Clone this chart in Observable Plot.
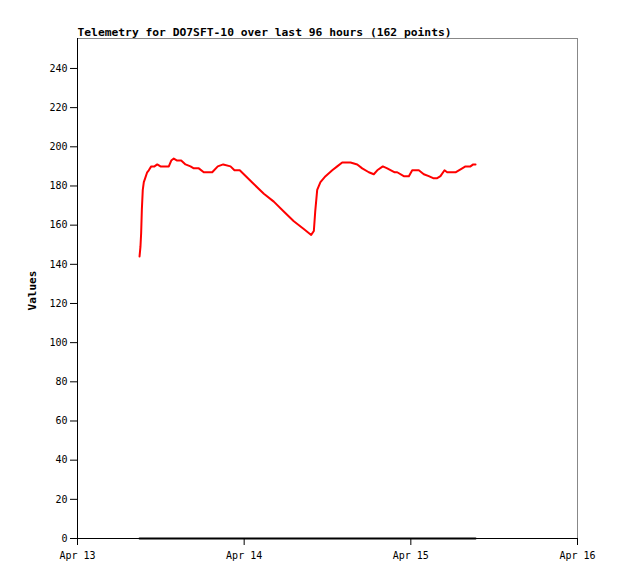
<!DOCTYPE html>
<html>
<head>
<meta charset="utf-8">
<script src="https://cdn.jsdelivr.net/npm/d3@7"></script>
<script src="https://cdn.jsdelivr.net/npm/@observablehq/plot@0.6"></script>
<style>
  html, body { margin: 0; padding: 0; background: #fff; }
</style>
</head>
<body>
<div id="chart"></div>
<script>
const titleText = "Telemetry for DO7SFT-10 over last 96 hours (162 points)";
const yLabel = "Values";
const times = [
  "2024-04-13T08:56","2024-04-13T09:04","2024-04-13T09:10","2024-04-13T09:16","2024-04-13T09:24",
  "2024-04-13T09:33","2024-04-13T09:45","2024-04-13T10:02","2024-04-13T10:16","2024-04-13T10:37",
  "2024-04-13T11:05","2024-04-13T11:29","2024-04-13T11:57","2024-04-13T13:09","2024-04-13T13:30",
  "2024-04-13T13:52","2024-04-13T14:21","2024-04-13T14:56","2024-04-13T15:33","2024-04-13T16:16",
  "2024-04-13T16:45","2024-04-13T17:28","2024-04-13T18:11","2024-04-13T19:24","2024-04-13T20:12",
  "2024-04-13T20:59","2024-04-13T22:02","2024-04-13T22:36","2024-04-13T23:22","2024-04-13T23:57",
  "2024-04-14T01:23","2024-04-14T02:50","2024-04-14T04:16","2024-04-14T05:42","2024-04-14T07:09",
  "2024-04-14T08:35","2024-04-14T09:39","2024-04-14T10:02","2024-04-14T10:14","2024-04-14T10:31",
  "2024-04-14T10:59","2024-04-14T11:43","2024-04-14T12:41","2024-04-14T13:24","2024-04-14T14:07",
  "2024-04-14T15:19","2024-04-14T16:17","2024-04-14T17:00","2024-04-14T17:57","2024-04-14T18:40",
  "2024-04-14T19:10","2024-04-14T19:58","2024-04-14T20:36","2024-04-14T21:41","2024-04-14T22:02",
  "2024-04-14T22:59","2024-04-14T23:43","2024-04-15T00:12","2024-04-15T01:09","2024-04-15T01:52",
  "2024-04-15T02:35","2024-04-15T03:13","2024-04-15T03:48","2024-04-15T04:16","2024-04-15T04:51",
  "2024-04-15T05:14","2024-04-15T06:26","2024-04-15T07:24","2024-04-15T07:52","2024-04-15T08:35",
  "2024-04-15T08:59","2024-04-15T09:19"
];
const valuesRed = [
  144,149,156,168,178,
  182,184,187,188,190,
  190,191,190,190,193,
  194,193,193,191,190,
  189,189,187,187,190,
  191,190,188,188,186,
  181,176,172,167,162,
  158,155,157,167,178,
  182,185,188,190,192,
  192,191,189,187,186,
  188,190,189,187,187,
  185,185,188,188,186,
  185,184,184,185,188,
  187,187,189,190,190,
  191,191
];
const valuesBlack = times.map(() => 0);
const xTicks = ["2024-04-13","2024-04-14","2024-04-15","2024-04-16"];
const yTicks = [0,20,40,60,80,100,120,140,160,180,200,220,240];

const parse = s => new Date(s + (s.length > 10 ? ":00Z" : "T00:00:00Z"));
const red = times.map((t, i) => ({t: parse(t), v: valuesRed[i]}));
const black = times.map((t, i) => ({t: parse(t), v: valuesBlack[i]}));
const xt = xTicks.map(parse);

const font = "'DejaVu Sans Mono', monospace";

const chart = Plot.plot({
  width: 618,
  height: 579,
  marginLeft: 77,
  marginRight: 41,
  marginTop: 38,
  marginBottom: 41,
  style: {fontFamily: font, fontSize: "10px", color: "#000", background: "#fff"},
  x: {type: "utc", domain: [xt[0], xt[3]]},
  y: {domain: [0, 255.3]},
  marks: [
    Plot.frame({stroke: "#888"}),
    Plot.ruleX([xt[0]], {stroke: "#000"}),
    Plot.ruleY([0], {stroke: "#000"}),
    Plot.axisY({ticks: yTicks, tickSize: 7, tickPadding: 3, label: null, fontSize: 10}),
    Plot.axisX({ticks: xt, tickSize: 7, tickPadding: 6, label: null, tickFormat: d3.utcFormat("%b %d"), fontSize: 10}),
    Plot.line(black, {x: "t", y: "v", stroke: "#000", strokeWidth: 2}),
    Plot.line(red, {x: "t", y: "v", stroke: "#ff0000", strokeWidth: 2}),
    Plot.text([titleText], {frameAnchor: "top-left", dx: 0, dy: -11, text: d => d, textAnchor: "start", fontWeight: "bold", fontSize: 11.3, fill: "#000"}),
    Plot.text([yLabel], {frameAnchor: "left", dx: -45, dy: 2, rotate: -90, text: d => d, textAnchor: "middle", fontWeight: "bold", fontSize: 11, fill: "#000"})
  ]
});
document.getElementById("chart").appendChild(chart);
</script>
</body>
</html>
